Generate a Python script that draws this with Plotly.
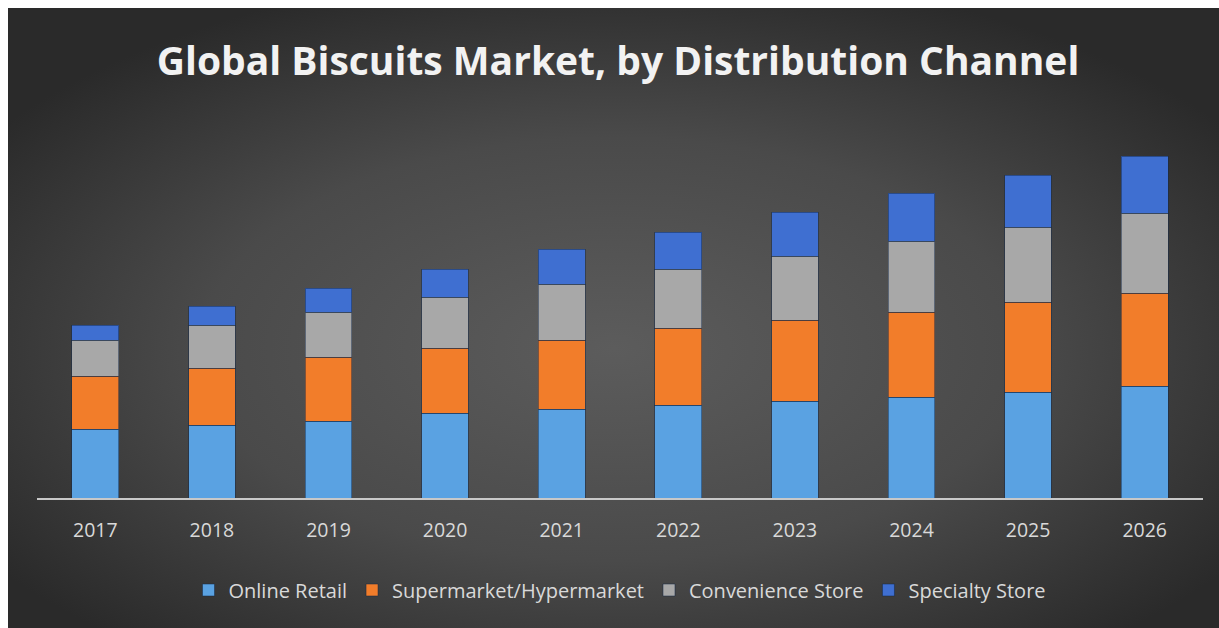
import base64
import plotly.graph_objects as go

years = ["2017", "2018", "2019", "2020", "2021", "2022", "2023", "2024", "2025", "2026"]
online_retail = [6.9, 7.3, 7.7, 8.5, 8.9, 9.3, 9.7, 10.1, 10.6, 11.2]
supermarket = [5.3, 5.7, 6.4, 6.5, 6.9, 7.7, 8.1, 8.5, 9.0, 9.3]
convenience = [3.6, 4.3, 4.5, 5.1, 5.6, 5.9, 6.4, 7.1, 7.5, 8.0]
specialty = [1.5, 1.9, 2.4, 2.8, 3.5, 3.7, 4.4, 4.8, 5.2, 5.7]

series = [
    ("Online Retail", online_retail, "#5aa2e2"),
    ("Supermarket/Hypermarket", supermarket, "#f27d2a"),
    ("Convenience Store", convenience, "#a8a8a8"),
    ("Specialty Store", specialty, "#3f6fd1"),
]

W, H = 1219, 628
L, R, T, B = 37, 16, 130, 130
pw, ph = W - L - R, H - T - B

svg = (
    '<svg xmlns="http://www.w3.org/2000/svg" width="1211" height="620" preserveAspectRatio="none">'
    '<defs><radialGradient id="g" cx="0.5" cy="0.55" r="0.62">'
    '<stop offset="0" stop-color="#5c5c5c"/>'
    '<stop offset="0.55" stop-color="#4a4a4a"/>'
    '<stop offset="1" stop-color="#2a2a2a"/>'
    '</radialGradient></defs>'
    '<rect width="1211" height="620" fill="url(#g)"/></svg>'
)
uri = "data:image/svg+xml;base64," + base64.b64encode(svg.encode()).decode()

TXT = "Open Sans, sans-serif"

fig = go.Figure()
for name, vals, col in series:
    fig.add_trace(go.Bar(
        x=years, y=vals, name=name,
        marker=dict(color=col, line=dict(color="rgba(20,40,70,0.5)", width=1)),
    ))

fig.update_layout(
    width=W, height=H,
    barmode="stack", bargap=0.6,
    paper_bgcolor="white", plot_bgcolor="rgba(0,0,0,0)",
    margin=dict(l=L, r=R, t=T, b=B),
    images=[dict(
        source=uri, xref="paper", yref="paper",
        x=(8 - L) / pw, y=(H - B - 8) / ph,
        sizex=(W - 8) / pw, sizey=(H - 8) / ph,
        xanchor="left", yanchor="top", sizing="stretch", layer="below",
    )],
    title=dict(
        text="<b>Global Biscuits Market, by Distribution Channel</b>",
        x=0.507, xanchor="center", xref="container",
        y=1 - 61 / H, yanchor="middle", yref="container",
        font=dict(family="Open Sans", size=39, color="#f2f2f2"),
    ),
    xaxis=dict(
        showline=True, linecolor="#c8c8c8", linewidth=1.5,
        showgrid=False, ticks="", ticklabelstandoff=14,
        tickfont=dict(family=TXT, size=19.5, color="#d9d9d9"),
        range=[-0.5, 9.5],
    ),
    yaxis=dict(visible=False, range=[0, ph / 10]),
    legend=dict(
        orientation="h", x=0.5, xanchor="center", y=(H - B - 590) / ph,
        yanchor="middle", traceorder="normal",
        font=dict(family=TXT, size=20, color="#d9d9d9"),
        bgcolor="rgba(0,0,0,0)", itemwidth=30,
    ),
    showlegend=True,
)

fig.write_html("out.html")
